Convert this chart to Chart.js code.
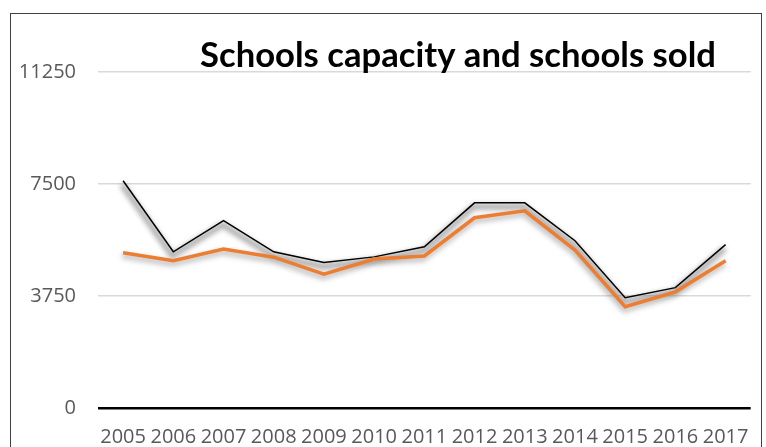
<!DOCTYPE html>
<html>
<head>
<meta charset="utf-8">
<script src="https://cdn.jsdelivr.net/npm/chart.js@4.4.0/dist/chart.umd.min.js"></script>
<style>
  html, body { margin: 0; padding: 0; background: #fff; overflow: hidden; }
  canvas { display: block; }
</style>
</head>
<body>
<canvas id="chart" width="766" height="480"></canvas>
<script>
// values
const years = ['2005', '2006', '2007', '2008', '2009', '2010', '2011', '2012', '2013', '2014', '2015', '2016', '2017'];
const capacity = [7610, 5230, 6270, 5230, 4870, 5060, 5400, 6870, 6870, 5600, 3690, 4030, 5470];
const sold = [5200, 4930, 5320, 5050, 4480, 4990, 5090, 6370, 6600, 5290, 3390, 3890, 4930];
const yTicks = [0, 3750, 7500, 11250];
const chartTitle = 'Schools capacity and schools sold';

const tickFont = "'Open Sans', 'Liberation Sans', sans-serif";

// soft grey band under each line (the spreadsheet's drop shadow),
// traced through the points the line controller already placed
const lineShadow = {
	id: 'lineShadow',
	beforeDatasetDraw(chart, args) {
		const ctx = chart.ctx;
		const pts = args.meta.data;
		if (!pts.length) return;
		const heavy = args.index === 1;
		ctx.save();
		ctx.filter = 'blur(2.5px)';
		ctx.strokeStyle = heavy ? 'rgba(120,120,120,0.6)' : 'rgba(120,120,120,0.4)';
		ctx.lineWidth = heavy ? 6 : 6;
		ctx.lineJoin = 'round';
		ctx.translate(-1, heavy ? 4 : 3);
		ctx.beginPath();
		pts.forEach((p, i) => i ? ctx.lineTo(p.x, p.y) : ctx.moveTo(p.x, p.y));
		ctx.stroke();
		ctx.restore();
	}
};

// frame round the chart and the title sitting over the plot
const frameAndTitle = {
	id: 'frameAndTitle',
	afterDraw(chart) {
		const ctx = chart.ctx;
		ctx.save();
		ctx.strokeStyle = '#404040';
		ctx.lineWidth = 1;
		ctx.strokeRect(10.5, 13.5, 751, 520);
		ctx.fillStyle = '#000';
		ctx.font = "bold 34px Lato, 'Open Sans', sans-serif";
		ctx.textAlign = 'center';
		ctx.textBaseline = 'alphabetic';
		// fit to the width of the original title
		const w = ctx.measureText(chartTitle).width;
		ctx.translate(458, 67);
		ctx.scale(516 / w, 1);
		ctx.fillText(chartTitle, 0, 0);
		ctx.restore();
	}
};

const ctx = document.getElementById('chart').getContext('2d');
new Chart(ctx, {
	type: 'line',
	data: {
		labels: years,
		datasets: [
			{
				label: 'Schools sold',
				data: sold,
				borderColor: '#ED7D31',
				borderWidth: 3.5,
				pointRadius: 0,
				tension: 0,
				fill: false
			},
			{
				label: 'Schools capacity',
				data: capacity,
				borderColor: '#000000',
				borderWidth: 1.5,
				pointRadius: 0,
				tension: 0,
				fill: false
			}
		]
	},
	options: {
		responsive: false,
		animation: false,
		devicePixelRatio: 1,
		layout: { padding: { left: 0, right: 14, top: 72, bottom: 0 } },
		plugins: {
			legend: { display: false },
			title: { display: false },
			tooltip: { enabled: false }
		},
		scales: {
			x: {
				offset: true,
				grid: { display: false, drawTicks: false },
				border: { display: false },
				ticks: {
					autoSkip: false,
					maxRotation: 0,
					padding: 17,
					color: '#595959',
					font: { family: tickFont, size: 20 }
				},
				afterFit(scale) { scale.height = 72; }
			},
			y: {
				min: 0,
				max: 11250,
				afterBuildTicks(scale) {
					scale.ticks = yTicks.map(v => ({ value: v }));
				},
				grid: {
					drawTicks: false,
					color: c => c.tick && c.tick.value === 0 ? '#000000' : '#d9d9d9',
					lineWidth: c => c.tick && c.tick.value === 0 ? 2.5 : 1.5
				},
				border: { display: false },
				ticks: {
					padding: 22,
					color: '#595959',
					font: { family: tickFont, size: 20 },
					callback: v => String(v)
				},
				afterFit(scale) { scale.width = 98; }
			}
		}
	},
	plugins: [lineShadow, frameAndTitle]
});
</script>
</body>
</html>
